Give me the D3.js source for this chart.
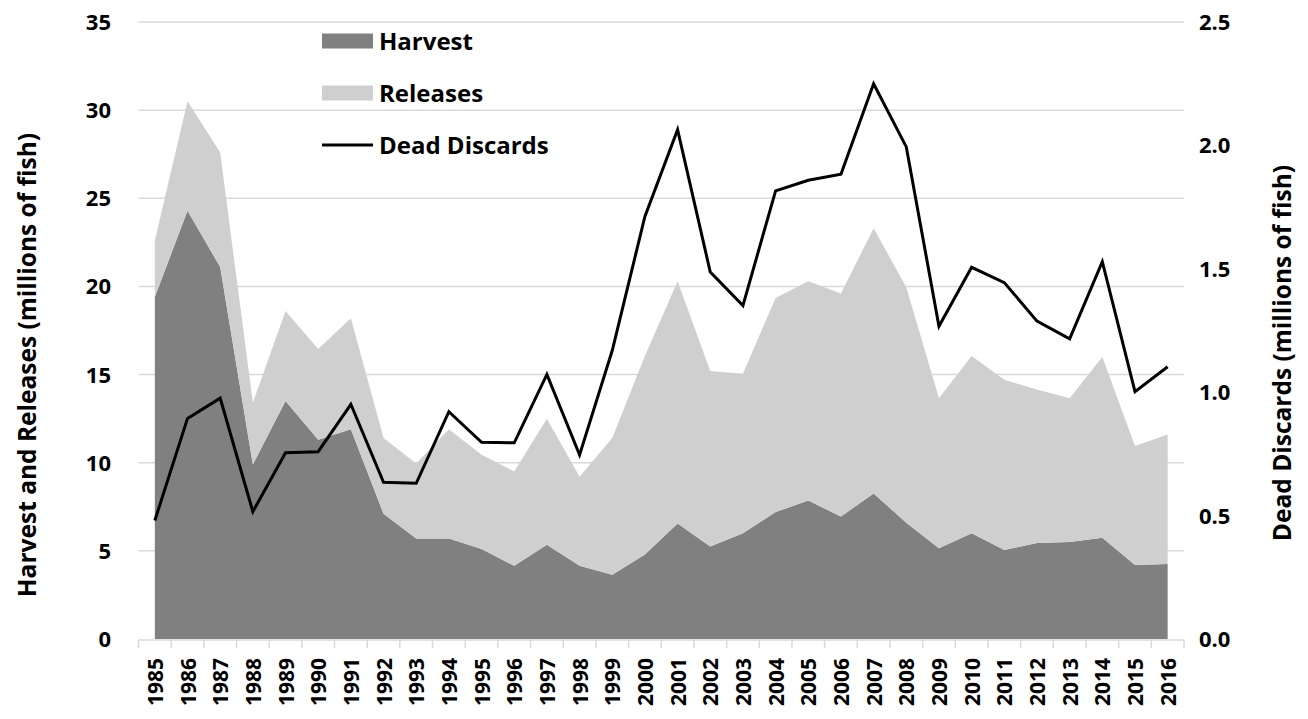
<!DOCTYPE html>
<html lang="en">
<head>
<meta charset="utf-8">
<title>Harvest, Releases and Dead Discards</title>
<script src="https://d3js.org/d3.v7.min.js"></script>
<style>
  body { margin: 0; background: #fff; }
  text { font-family: "Open Sans", "DejaVu Sans", sans-serif; font-weight: bold; fill: #000; }
</style>
</head>
<body>
<script>
// data (millions of fish)
var years = [1985,1986,1987,1988,1989,1990,1991,1992,1993,1994,1995,1996,1997,1998,1999,2000,
             2001,2002,2003,2004,2005,2006,2007,2008,2009,2010,2011,2012,2013,2014,2015,2016];
var harvest = [19.4,24.3,21.1,9.9,13.5,11.3,11.9,7.1,5.7,5.7,5.1,4.15,5.35,4.15,3.65,4.8,
               6.55,5.25,6.0,7.2,7.85,6.95,8.25,6.6,5.15,6.0,5.05,5.45,5.5,5.75,4.2,4.25];
var releases = [3.2,6.2,6.5,3.5,5.1,5.15,6.3,4.3,4.25,6.2,5.35,5.35,7.15,5.05,7.75,11.25,
                13.75,9.95,9.05,12.15,12.45,12.65,15.05,13.35,8.5,10.05,9.65,8.7,8.15,10.25,6.75,7.35];
var deadDiscards = [0.48,0.894,0.976,0.516,0.755,0.759,0.951,0.635,0.631,0.921,0.797,0.795,1.072,0.746,1.169,1.712,
                    2.064,1.487,1.351,1.816,1.859,1.883,2.25,1.994,1.267,1.506,1.444,1.288,1.216,1.529,1.002,1.103];
var leftTicks = [0,5,10,15,20,25,30,35];
var rightTicks = [0,0.5,1.0,1.5,2.0,2.5];

var W = 1308, H = 719;
var plotLeft = 138.5, plotRight = 1184, plotTop = 22, plotBottom = 639;

var svg = d3.select("body").append("svg").attr("width", W).attr("height", H);

var x = d3.scaleBand().domain(years).range([plotLeft, plotRight]);
var yL = d3.scaleLinear().domain([0, 35]).range([plotBottom, plotTop]);
var yR = d3.scaleLinear().domain([0, 2.5]).range([plotBottom, plotTop]);
var cx = function(yr) { return x(yr) + x.bandwidth() / 2; };

// gridlines
svg.append("g").selectAll("line").data(leftTicks.slice(1)).enter().append("line")
  .attr("x1", plotLeft).attr("x2", plotRight)
  .attr("y1", d => yL(d)).attr("y2", d => yL(d))
  .attr("stroke", "#d9d9d9").attr("stroke-width", 1.5);

// stacked areas
var rows = years.map((yr, i) => ({year: yr, harvest: harvest[i], releases: releases[i]}));
var stack = d3.stack().keys(["harvest", "releases"])(rows);
var colors = {harvest: "#808080", releases: "#d0cfd0"};
var area = d3.area()
  .x(d => cx(d.data.year))
  .y0(d => yL(d[0]))
  .y1(d => yL(d[1]));
svg.append("g").selectAll("path").data(stack).enter().append("path")
  .attr("d", area)
  .attr("fill", d => colors[d.key]);

// dead discards line
var line = d3.line().x((d, i) => cx(years[i])).y(d => yR(d));
svg.append("path").datum(deadDiscards)
  .attr("d", line)
  .attr("fill", "none").attr("stroke", "#000").attr("stroke-width", 3)
  .attr("stroke-linejoin", "miter");

// bottom axis
var xAxis = svg.append("g").attr("transform", "translate(0," + (plotBottom + 1) + ")");
xAxis.append("line").attr("x1", plotLeft).attr("x2", plotRight).attr("stroke", "#d9d9d9").attr("stroke-width", 1.5);
xAxis.selectAll("line.tick").data(years.concat([null])).enter().append("line")
  .attr("class", "tick")
  .attr("x1", (d, i) => plotLeft + i * x.bandwidth()).attr("x2", (d, i) => plotLeft + i * x.bandwidth())
  .attr("y1", 0).attr("y2", 8)
  .attr("stroke", "#d9d9d9").attr("stroke-width", 1.5);
xAxis.selectAll("text").data(years).enter().append("text")
  .attr("transform", d => "translate(" + (cx(d) + 8) + ",18) rotate(-90)")
  .attr("text-anchor", "end")
  .style("font-size", "21px")
  .text(d => d);

// left axis labels
svg.append("g").selectAll("text").data(leftTicks).enter().append("text")
  .attr("x", 111).attr("y", d => yL(d) + 8)
  .attr("text-anchor", "end")
  .style("font-size", "22px")
  .text(d => d);

// right axis labels
svg.append("g").selectAll("text").data(rightTicks).enter().append("text")
  .attr("x", 1199).attr("y", d => yR(d) + 8)
  .attr("text-anchor", "start")
  .style("font-size", "22px")
  .text(d => d3.format(".1f")(d));

// axis titles
svg.append("text")
  .attr("transform", "translate(36,365) rotate(-90)")
  .attr("text-anchor", "middle")
  .style("font-size", "24.5px")
  .text("Harvest and Releases (millions of fish)");
svg.append("text")
  .attr("transform", "translate(1291,353) rotate(-90)")
  .attr("text-anchor", "middle")
  .style("font-size", "24.5px")
  .text("Dead Discards (millions of fish)");

// legend
var legend = svg.append("g");
var legendItems = [
  {name: "Harvest", type: "area", color: colors.harvest, y: 41},
  {name: "Releases", type: "area", color: colors.releases, y: 93},
  {name: "Dead Discards", type: "line", color: "#000", y: 145}
];
legendItems.forEach(function(it) {
  if (it.type === "area") {
    legend.append("rect").attr("x", 322).attr("y", it.y - 7.5).attr("width", 51).attr("height", 15).attr("fill", it.color);
  } else {
    legend.append("line").attr("x1", 322).attr("x2", 373).attr("y1", it.y).attr("y2", it.y)
      .attr("stroke", it.color).attr("stroke-width", 3);
  }
  legend.append("text").attr("x", 379).attr("y", it.y + 8.5)
    .style("font-size", "24px")
    .text(it.name);
});
</script>
</body>
</html>
